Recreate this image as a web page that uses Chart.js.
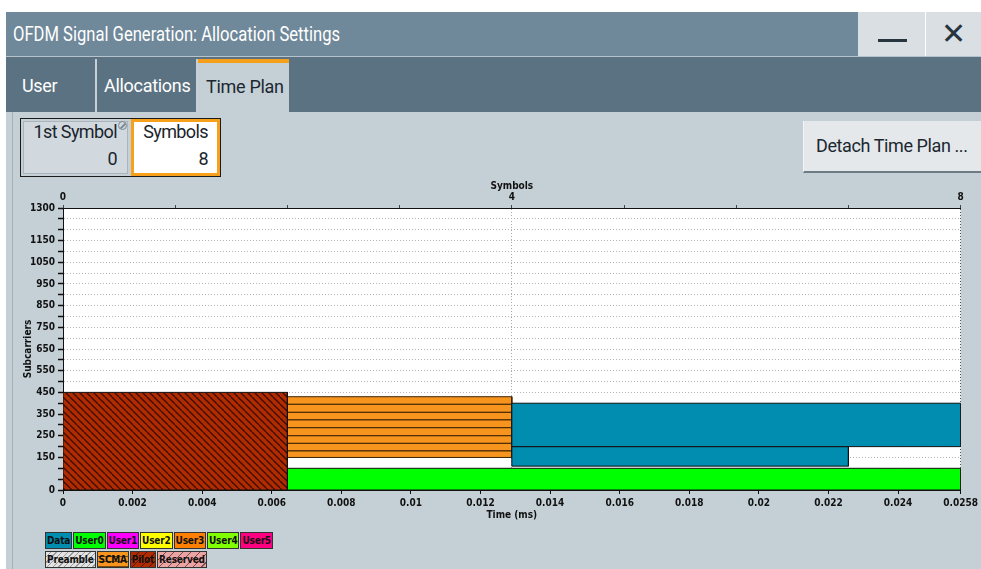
<!DOCTYPE html>
<html>
<head>
<meta charset="utf-8">
<script src="https://cdn.jsdelivr.net/npm/chart.js@4"></script>
<style>
  body { margin: 0; width: 981px; height: 569px; overflow: hidden; position: relative; background: #fff; font-family: Roboto, "Noto Sans", sans-serif; }
  .abs { position: absolute; }
  #content { left: 6px; top: 56px; width: 975px; height: 513px; background: #c5d0d6; }
  #leftLine { left: 12px; top: 112px; width: 1px; height: 457px; background: #a3aeb5; }
  #titleBar { left: 6px; top: 12px; width: 852px; height: 44px; background: #6f889a; }
  #titleText { left: 13px; top: 12px; height: 44px; line-height: 44px; color: #fff; font-size: 21px; white-space: nowrap;
    transform: scaleX(0.79); transform-origin: 0 50%; }
  .winBtn { top: 12px; height: 44px; background: #d9dfe3; }
  #minBar { left: 878px; top: 39px; width: 29px; height: 3px; background: #27353f; }
  #closeX { left: 926px; top: 12px; width: 55px; height: 44px; line-height: 44px; text-align: center; color: #27353f; font-size: 30px; font-weight: bold; font-family: "DejaVu Sans", sans-serif; }
  #tabBar { left: 6px; top: 56px; width: 975px; height: 56px; background: #5b7282; border-top: 1px solid #b7c3cb; box-sizing: border-box; }
  .tab { top: 59px; height: 53px; line-height: 53px; font-size: 18px; color: #fff; box-sizing: border-box; padding-left: 9px; letter-spacing: -0.3px; }
  .sep { top: 59px; width: 2px; height: 53px; background: #c7d0d6; }
  #tabTime { left: 198px; width: 91px; background: #c5d0d6; color: #1c2831; border-top: 4px solid #f59f1a; line-height: 47px; padding-left: 8px; }
  #fieldBox { left: 20px; top: 118px; width: 201px; height: 59px; border: 1px solid #1b1b1b; box-sizing: border-box; }
  #cellFirst { left: 23px; top: 121px; width: 105px; height: 53px; background: #d1d9df; border: 1px solid #aab4ba; box-sizing: border-box; }
  #cellSym { left: 131px; top: 119px; width: 89px; height: 57px; background: #fff; border: 3px solid #f7a01c; box-sizing: border-box; }
  .fld { font-size: 18px; color: #1a242c; text-align: right; letter-spacing: -0.6px; }
  #noIcon { left: 118px; top: 121px; width: 7px; height: 7px; border: 1.5px solid #7d8a93; border-radius: 50%; overflow: hidden; }
  #noIcon::after { content: ''; position: absolute; left: -1px; top: 3px; width: 10px; height: 1.5px; background: #7d8a93; transform: rotate(-45deg); }
  #detach { left: 803px; top: 121px; width: 178px; height: 52px; background: #e4e8eb; border-bottom: 2px solid #6d7b84; border-left: 1px solid #f3f5f6;
    box-sizing: border-box; font-size: 18px; color: #1c2730; line-height: 50px; padding-left: 12px; letter-spacing: -0.4px; white-space: nowrap; }
  #chartCanvas { left: 0; top: 180px; }
  #legend { left: 45px; top: 532px; font-family: "Liberation Sans Narrow", "DejaVu Sans Condensed", sans-serif; font-weight: bold; font-size: 10px; }
  .lrow { display: flex; height: 17px; margin-bottom: 2px; }
  .litem { border: 1px solid #333; box-sizing: border-box; height: 17px; line-height: 15px; padding: 0 1px; margin-right: 1px; color: #111; letter-spacing: -0.2px; }
</style>
</head>
<body>
<div id="content" class="abs"></div>
<div id="leftLine" class="abs"></div>
<div id="titleBar" class="abs"></div>
<div id="titleText" class="abs">OFDM Signal Generation: Allocation Settings</div>
<div class="abs winBtn" style="left:858px;width:67px;"></div>
<div id="minBar" class="abs"></div>
<div id="closeX" class="abs winBtn">✕</div>
<div id="tabBar" class="abs"></div>
<div class="abs tab" style="left:13px;width:82px;">User</div>
<div class="abs sep" style="left:95px;"></div>
<div class="abs tab" style="left:97px;width:100px;padding-left:7px;">Allocations</div>
<div class="abs sep" style="left:196px;"></div>
<div id="tabTime" class="abs tab">Time Plan</div>

<div id="fieldBox" class="abs"></div>
<div id="cellFirst" class="abs"></div>
<div id="cellSym" class="abs"></div>
<div class="abs fld" style="left:23px;top:121px;width:94px;">1st Symbol</div>
<div class="abs fld" style="left:23px;top:148px;width:94px;">0</div>
<div id="noIcon" class="abs"></div>
<div class="abs fld" style="left:131px;top:121px;width:77px;">Symbols</div>
<div class="abs fld" style="left:131px;top:148px;width:77px;">8</div>
<div id="detach" class="abs">Detach Time Plan ...</div>

<canvas id="chartCanvas" class="abs" width="981" height="345"></canvas>
<div id="legend" class="abs"></div>

<script>
// axis values
const timeTicks = [0, 0.002, 0.004, 0.006, 0.008, 0.01, 0.012, 0.014, 0.016, 0.018, 0.02, 0.022, 0.024, 0.0258];
const subcarrierLabels = [0, 150, 250, 350, 450, 550, 650, 750, 850, 950, 1050, 1150, 1300];
const symbolLabels = [0, 4, 8];

// allocations: time in ms, subcarrier ranges
const allocKind = ['Pilot', 'User0', 'Data', 'Data'];
const allocStart = [0, 0.00645, 0.0129, 0.0129];
const allocEnd = [0.00645, 0.0258, 0.0258, 0.022575];
const allocLow = [0, 0, 200, 110];
const allocHigh = [450, 100, 400, 200];

// SCMA block, drawn as stripes
const scmaStart = 0.00645;
const scmaEnd = 0.0129;
const scmaRows = [150, 180, 215, 250, 287, 323, 358, 395, 430];

const legendRow1 = ['Data', 'User0', 'User1', 'User2', 'User3', 'User4', 'User5'];
const legendColors1 = ['#008db0', '#00ff00', '#ff00ff', '#ffff00', '#ff8000', '#80ff00', '#ff0080'];
const legendRow2 = ['Preamble', 'SCMA', 'Pilot', 'Reserved'];
const legendBgs2 = [
  'repeating-linear-gradient(135deg, #e2e2e2 0 3px, #9a9a9a 3px 4px)',
  'repeating-linear-gradient(180deg, #f7941d 0 4px, #7a4a10 4px 5px)',
  'repeating-linear-gradient(135deg, #b02c00 0 5px, #5a1500 5px 6px)',
  'repeating-linear-gradient(135deg, #eba4a4 0 5px, #7a4a4a 5px 6px)',
];

const kindColors = { Data: '#008db0', User0: '#00ff00' };

function hatch(bg, fg, n) {
  const c = document.createElement('canvas');
  c.width = n;
  c.height = n;
  const g = c.getContext('2d');
  g.fillStyle = bg;
  g.fillRect(0, 0, n, n);
  g.strokeStyle = fg;
  g.lineWidth = 1.3;
  for (let k = -n; k <= n; k += n) {
    g.beginPath();
    g.moveTo(k, 0);
    g.lineTo(k + n, n);
    g.stroke();
  }
  return g.createPattern(c, 'repeat');
}

const ctx = document.getElementById('chartCanvas');
kindColors.Pilot = hatch('#b02c00', '#3a0d00', 7);

function rect(x0, x1, y0, y1) {
  return [
    { x: x0, y: y0 },
    { x: x0, y: y1 },
    { x: x1, y: y1 },
    { x: x1, y: y0 },
    { x: x0, y: y0 },
  ];
}

const datasets = [];
allocKind.forEach((k, i) => {
  datasets.push({
    label: k,
    data: rect(allocStart[i], allocEnd[i], allocLow[i], allocHigh[i]),
    backgroundColor: kindColors[k],
  });
});
for (let i = 0; i < scmaRows.length - 1; i++) {
  datasets.push({
    label: 'SCMA',
    data: rect(scmaStart, scmaEnd, scmaRows[i], scmaRows[i + 1]),
    backgroundColor: '#f7941d',
    borderColor: '#3b2206',
  });
}
datasets.forEach((d) => {
  d.fill = 'shape';
  if (!d.borderColor) d.borderColor = '#111';
  d.borderWidth = 1;
  d.pointRadius = 0;
  d.tension = 0;
});

const plotBg = {
  id: 'plotBg',
  beforeDraw(chart) {
    const a = chart.chartArea;
    chart.ctx.save();
    chart.ctx.fillStyle = '#fff';
    chart.ctx.fillRect(a.left, a.top, a.right - a.left, a.bottom - a.top);
    chart.ctx.restore();
  },
};

Chart.defaults.font.family = '"Liberation Sans Narrow", "DejaVu Sans Condensed", sans-serif';
Chart.defaults.color = '#111';

const tickFont = { size: 10, weight: 'bold' };
const titleFont = { size: 10, weight: 'bold' };

new Chart(ctx, {
  type: 'line',
  data: { datasets: datasets },
  options: {
    responsive: false,
    animation: false,
    devicePixelRatio: 1,
    events: [],
    layout: { padding: { left: 0, right: 20, top: 0, bottom: 0 } },
    plugins: { legend: { display: false }, tooltip: { enabled: false } },
    scales: {
      x: {
        type: 'linear',
        position: 'bottom',
        min: 0,
        max: 0.0258,
        afterBuildTicks: (s) => { s.ticks = timeTicks.map((v) => ({ value: v })); },
        afterFit: (s) => { s.height = 35; },
        ticks: { autoSkip: false, maxRotation: 0, font: tickFont, padding: 3, callback: (v) => String(v) },
        grid: { drawOnChartArea: false, tickLength: 4, tickColor: '#111' },
        border: { color: '#111', width: 1 },
        title: { display: true, text: 'Time (ms)', font: titleFont, padding: { top: 0, bottom: 4 } },
      },
      x2: {
        type: 'linear',
        position: 'top',
        min: 0,
        max: 8,
        afterFit: (s) => { s.height = 28; },
        ticks: { stepSize: 1, autoSkip: false, maxRotation: 0, font: tickFont, padding: 2,
          callback: (v) => (symbolLabels.includes(v) ? String(v) : '') },
        grid: {
          color: (c) => (c.tick && c.tick.value === 4 ? '#aaa' : c.tick && c.tick.value === 8 ? '#555' : 'rgba(0,0,0,0)'),
          tickLength: 3,
          tickColor: '#444',
        },
        border: { color: '#111', width: 1, dash: [1, 2] },
        title: { display: true, text: 'Symbols', font: titleFont, padding: { top: 0, bottom: 0 } },
      },
      y: {
        type: 'linear',
        min: 0,
        max: 1300,
        afterFit: (s) => { s.width = 63; },
        ticks: { stepSize: 50, autoSkip: false, font: tickFont, padding: 3,
          callback: (v) => (subcarrierLabels.includes(v) ? String(v) : '') },
        grid: {
          color: (c) => (c.tick && (c.tick.value === 0 || c.tick.value === 1300) ? 'rgba(0,0,0,0)' : '#b4b4b4'),
          tickLength: 5,
          tickColor: '#111',
          tickWidth: 1.5,
        },
        border: { color: '#111', width: 1, dash: [1, 2] },
        title: { display: true, text: 'Subcarriers', font: titleFont, padding: { top: 22, bottom: 0 } },
      },
    },
  },
  plugins: [plotBg],
});

// legend below the plot
const legend = document.getElementById('legend');
function addRow(names, bgs) {
  const row = document.createElement('div');
  row.className = 'lrow';
  names.forEach((n, i) => {
    const el = document.createElement('div');
    el.className = 'litem';
    el.textContent = n;
    el.style.background = bgs[i];
    row.appendChild(el);
  });
  legend.appendChild(row);
}
addRow(legendRow1, legendColors1);
addRow(legendRow2, legendBgs2);
</script>
</body>
</html>
